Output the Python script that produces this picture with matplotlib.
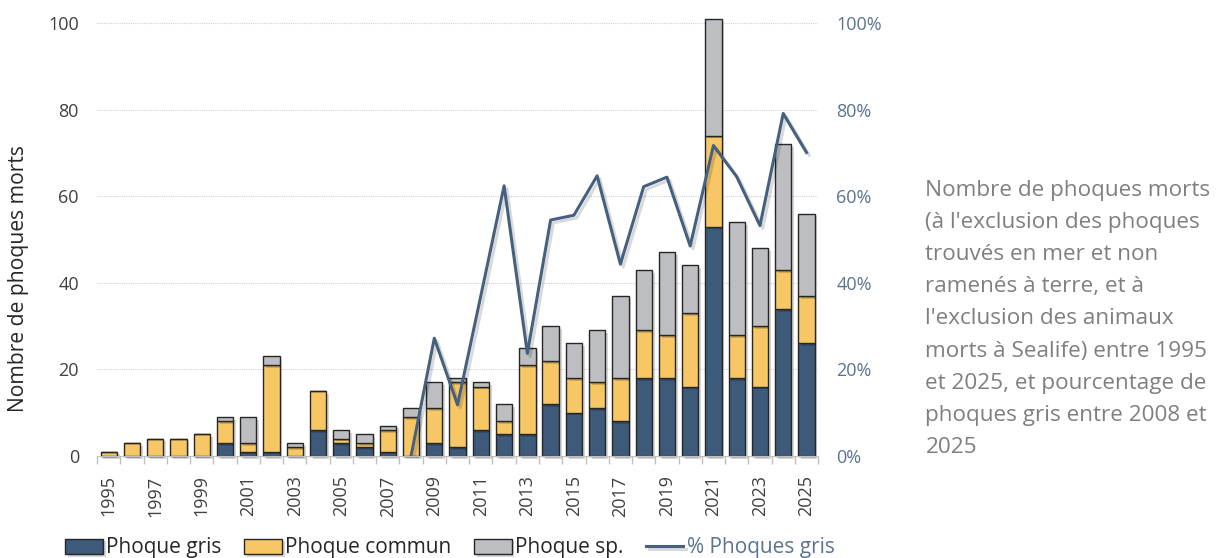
import matplotlib
matplotlib.use("Agg")
from matplotlib import pyplot as plt
from matplotlib import patheffects as pe
from matplotlib.ticker import FuncFormatter, MultipleLocator

plt.rcParams['font.family'] = ['Open Sans', 'DejaVu Sans']

# ------------- Data ---------------

years = list(range(1995, 2026))
gris = [0, 0, 0, 0, 0, 3, 1, 1, 0, 6, 3, 2, 1, 0, 3, 2, 6, 5, 5, 12,
        10, 11, 8, 18, 18, 16, 53, 18, 16, 34, 26]
commun = [1, 3, 4, 4, 5, 5, 2, 20, 2, 9, 1, 1, 5, 9, 8, 15, 10, 3, 16, 10,
          8, 6, 10, 11, 10, 17, 21, 10, 14, 9, 11]
sp = [0, 0, 0, 0, 0, 1, 6, 2, 1, 0, 2, 2, 1, 2, 6, 1, 1, 4, 4, 8,
      8, 12, 19, 14, 19, 11, 27, 26, 18, 29, 19]

pct_years = list(range(2008, 2026))
pct_gris = [0, 27.2, 11.8, 37, 62.4, 23.7, 54.5, 55.6, 64.7, 44.3,
            62.2, 64.4, 48.5, 71.7, 64.5, 53.2, 79.1, 70.1]

labels = ["Phoque gris", "Phoque commun", "Phoque sp.", "% Phoques gris"]
colors = ["#3D5A7A", "#F8C765", "#BDBEC1"]
line_color = "#45617F"

note = ("Nombre de phoques morts\n(à l'exclusion des phoques\ntrouvés en mer et non\n"
        "ramenés à terre, et à\nl'exclusion des animaux\nmorts à Sealife) entre 1995\n"
        "et 2025, et pourcentage de\nphoques gris entre 2008 et\n2025")

# ------------- Plot ---------------

fig = plt.figure(figsize=(12.16, 5.58), dpi=100)
ax = fig.add_axes([0.0798, 0.1828, 0.593, 0.776])

shadow = [pe.SimplePatchShadow(offset=(2, -2), shadow_rgbFace="#000000", alpha=0.16), pe.Normal()]

bottom2 = [g + c for g, c in zip(gris, commun)]
handles = []
for vals, base, col, lab in [(gris, [0] * len(years), colors[0], labels[0]),
                             (commun, gris, colors[1], labels[1]),
                             (sp, bottom2, colors[2], labels[2])]:
    bars = ax.bar(years, vals, bottom=base, width=0.7, color=col, edgecolor="#262626",
                  linewidth=1.0, label=lab, zorder=3)
    for b in bars:
        b.set_clip_on(False)
        b.set_path_effects(shadow)
    handles.append(bars)

ax.set_xlim(1994.5, 2025.5)
ax.set_ylim(0, 100)
ax.yaxis.set_major_locator(MultipleLocator(20))
ax.grid(axis="y", color="#D0D0D0", linestyle=(0, (1, 1)), linewidth=0.8, zorder=0)
ax.set_xticks(years[::2])
ax.set_xticklabels([str(y) for y in years[::2]], rotation=90)
ax.set_xticks([y + 0.5 for y in years[:-1]] + [1994.5, 2025.5], minor=True)
ax.tick_params(axis="x", which="major", length=0, pad=14, labelsize=13, labelcolor="#404040")
ax.tick_params(axis="x", which="minor", length=6, color="#BFBFBF", width=1)
ax.tick_params(axis="y", length=0, pad=13, labelsize=13, labelcolor="#404040")
for s in ["top", "right", "left"]:
    ax.spines[s].set_visible(False)
ax.spines["bottom"].set_color("#BFBFBF")
ax.spines["bottom"].set_zorder(4)
ax.set_ylabel("Nombre de phoques morts", fontsize=15.2, color="#262626")
ax.yaxis.set_label_coords(-0.094, 0.41)

ax2 = ax.twinx()
line, = ax2.plot(pct_years, pct_gris, color=line_color, linewidth=2.2, label=labels[3], zorder=5,
                 path_effects=[pe.SimpleLineShadow(offset=(2, -2), alpha=0.15), pe.Normal()])
ax2.set_ylim(0, 100)
ax2.yaxis.set_major_locator(MultipleLocator(20))
ax2.yaxis.set_major_formatter(FuncFormatter(lambda v, p: f"{v:.0f}%"))
ax2.tick_params(axis="y", length=0, pad=13, labelsize=13, labelcolor="#5B7391")
for s in ["top", "right", "left", "bottom"]:
    ax2.spines[s].set_visible(False)

leg = fig.legend(handles + [line], labels, loc="center", bbox_to_anchor=(0.370, 0.018),
                 ncol=4, frameon=False, fontsize=15, handlelength=1.8, handleheight=0.75,
                 handletextpad=0.15, columnspacing=1.1)
leg.get_texts()[3].set_color("#5B7391")
for t in leg.get_texts()[:3]:
    t.set_color("#262626")

fig.text(0.761, 0.678, note, fontsize=16.2, color="#7F7F7F", va="top", ha="left",
         linespacing=1.7)

fig.savefig("out.png", dpi=100)
